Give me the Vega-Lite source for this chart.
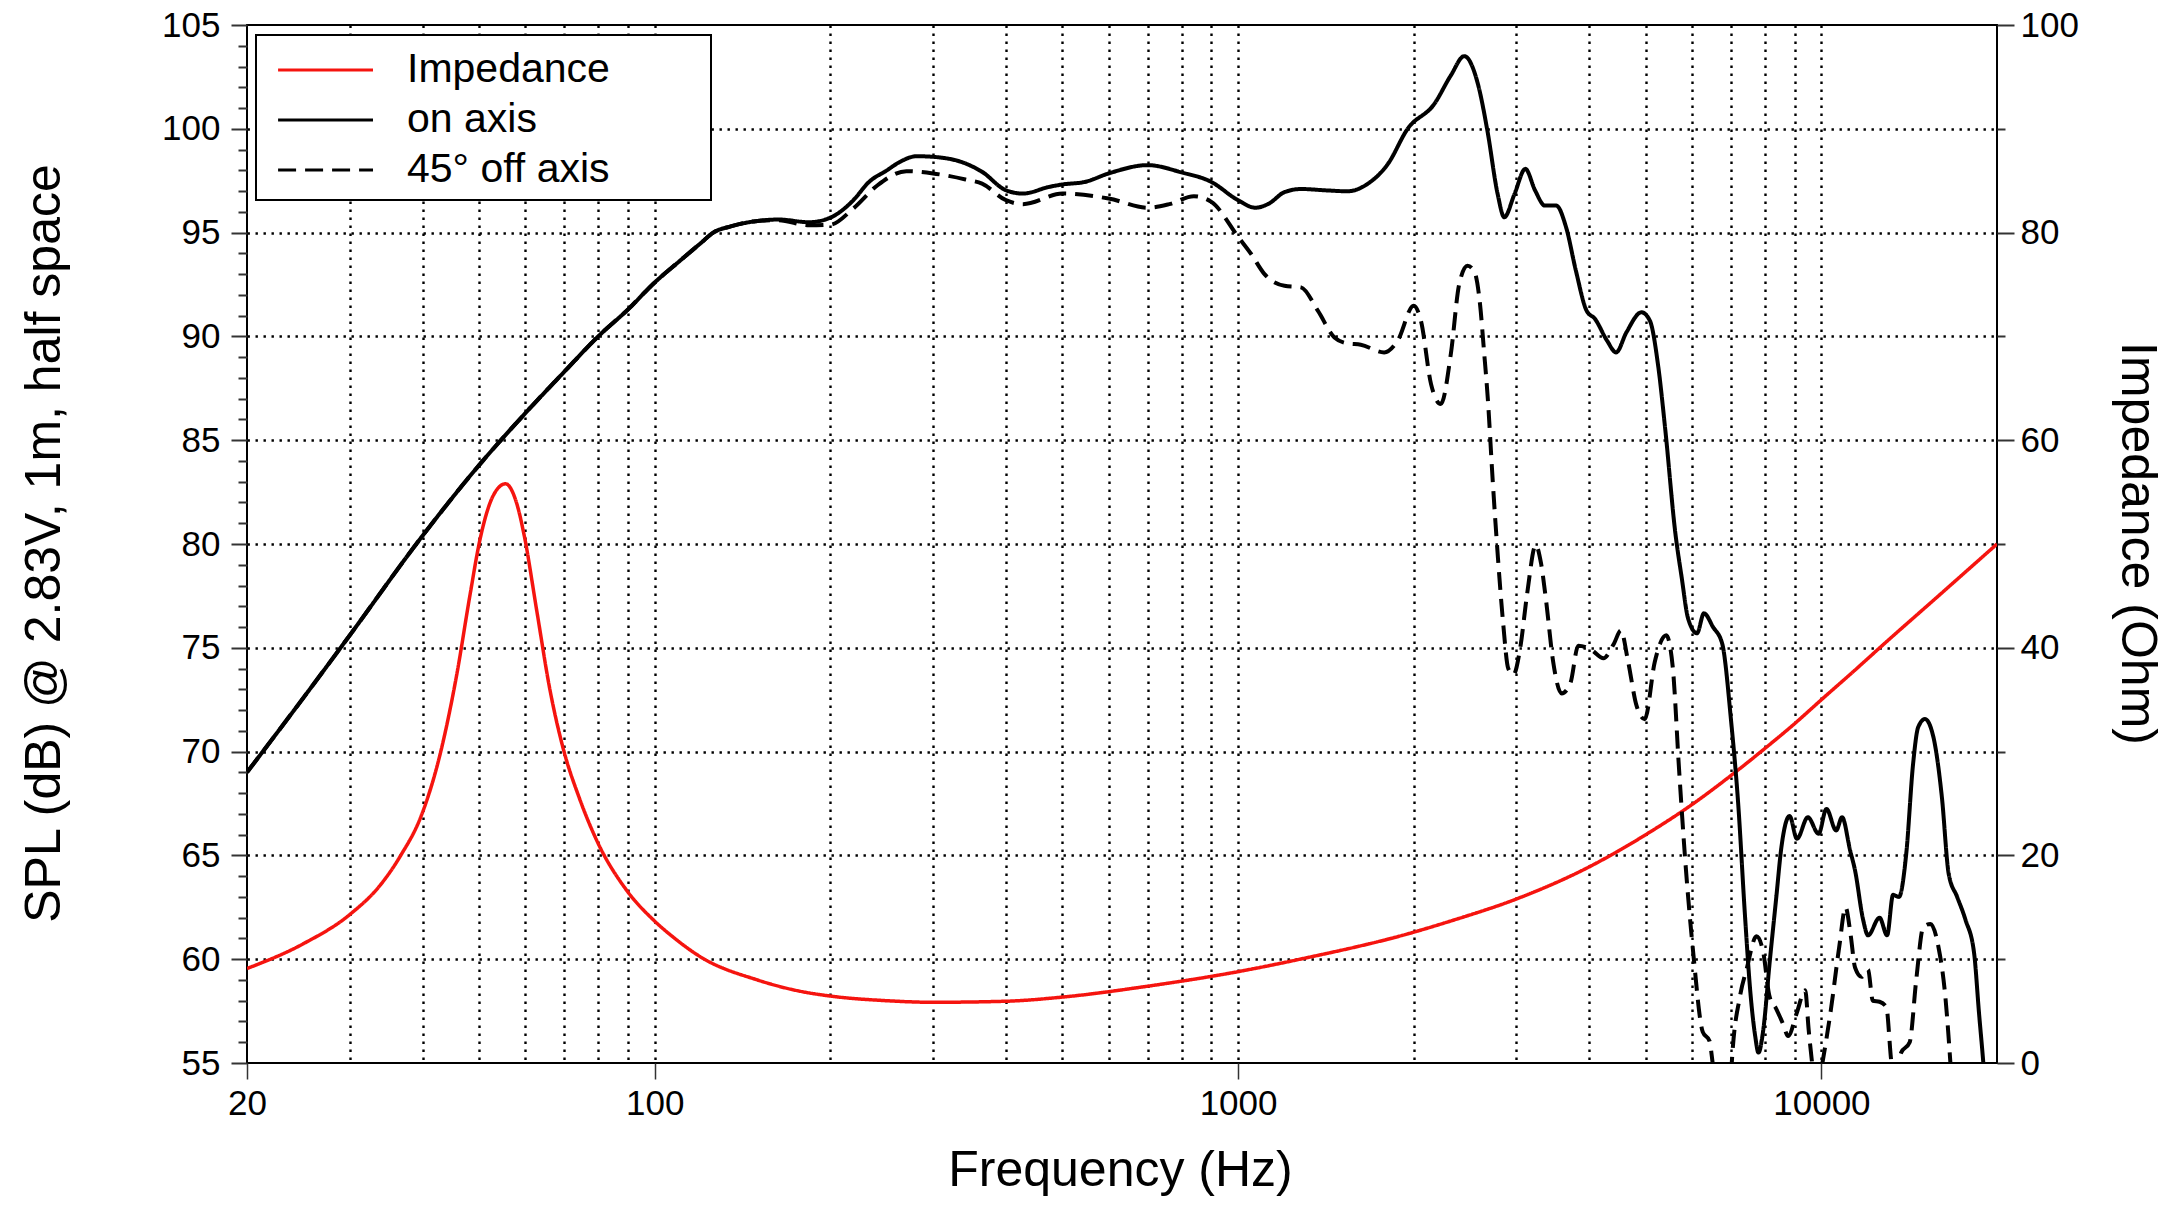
{
  "$schema": "https://vega.github.io/schema/vega-lite/v6.json",
  "width": 1750,
  "height": 1038,
  "autosize": {"type": "none"},
  "padding": {"left": 247, "top": 25, "right": 183, "bottom": 145},
  "background": "white",
  "config": {
    "font": "Liberation Sans",
    "view": {"stroke": "#000", "strokeWidth": 2},
    "axis": {
      "labelFont": "Liberation Sans", "titleFont": "Liberation Sans",
      "labelColor": "#000", "titleColor": "#000", "titleFontWeight": "normal",
      "domain": false, "tickColor": "#333", "tickWidth": 2,
      "labelFontSize": 35, "titleFontSize": 50,
      "gridColor": "#000", "gridDash": [2.4, 5.6], "gridWidth": 2.4,
      "labelOverlap": false, "labelBound": false, "labelFlush": false
    },
    "legend": {"strokeWidth": 2}
  },
  "datasets": {
    "spl": [
      {"f": 20, "s": "on axis", "db": 69.0}, {"f": 25, "s": "on axis", "db": 72.6}, {"f": 30, "s": "on axis", "db": 75.6},
      {"f": 40, "s": "on axis", "db": 80.4}, {"f": 50, "s": "on axis", "db": 83.8}, {"f": 60, "s": "on axis", "db": 86.3},
      {"f": 70, "s": "on axis", "db": 88.3}, {"f": 80, "s": "on axis", "db": 90.0}, {"f": 90, "s": "on axis", "db": 91.3},
      {"f": 100, "s": "on axis", "db": 92.6}, {"f": 110, "s": "on axis", "db": 93.6}, {"f": 120, "s": "on axis", "db": 94.5},
      {"f": 126, "s": "on axis", "db": 95.0}, {"f": 135, "s": "on axis", "db": 95.3}, {"f": 149, "s": "on axis", "db": 95.55},
      {"f": 163, "s": "on axis", "db": 95.63}, {"f": 184, "s": "on axis", "db": 95.5}, {"f": 200, "s": "on axis", "db": 95.72},
      {"f": 219, "s": "on axis", "db": 96.56}, {"f": 233, "s": "on axis", "db": 97.44}, {"f": 250, "s": "on axis", "db": 98.0},
      {"f": 263, "s": "on axis", "db": 98.4}, {"f": 281, "s": "on axis", "db": 98.68}, {"f": 300, "s": "on axis", "db": 98.65},
      {"f": 341, "s": "on axis", "db": 98.33}, {"f": 364, "s": "on axis", "db": 97.93}, {"f": 400, "s": "on axis", "db": 97.04},
      {"f": 428, "s": "on axis", "db": 96.88}, {"f": 474, "s": "on axis", "db": 97.2}, {"f": 500, "s": "on axis", "db": 97.32},
      {"f": 546, "s": "on axis", "db": 97.44}, {"f": 600, "s": "on axis", "db": 97.85}, {"f": 700, "s": "on axis", "db": 98.25},
      {"f": 800, "s": "on axis", "db": 97.9}, {"f": 900, "s": "on axis", "db": 97.44}, {"f": 1000, "s": "on axis", "db": 96.56},
      {"f": 1070, "s": "on axis", "db": 96.2}, {"f": 1130, "s": "on axis", "db": 96.4}, {"f": 1201, "s": "on axis", "db": 96.95},
      {"f": 1282, "s": "on axis", "db": 97.1}, {"f": 1424, "s": "on axis", "db": 97.03}, {"f": 1541, "s": "on axis", "db": 96.99},
      {"f": 1668, "s": "on axis", "db": 97.35}, {"f": 1806, "s": "on axis", "db": 98.3}, {"f": 1953, "s": "on axis", "db": 100.0},
      {"f": 2170, "s": "on axis", "db": 101.2}, {"f": 2316, "s": "on axis", "db": 102.57}, {"f": 2442, "s": "on axis", "db": 103.5},
      {"f": 2575, "s": "on axis", "db": 102.2}, {"f": 2676, "s": "on axis", "db": 99.9}, {"f": 2786, "s": "on axis", "db": 96.86},
      {"f": 2860, "s": "on axis", "db": 95.74}, {"f": 2978, "s": "on axis", "db": 96.86}, {"f": 3108, "s": "on axis", "db": 98.07},
      {"f": 3230, "s": "on axis", "db": 97.03}, {"f": 3358, "s": "on axis", "db": 96.3}, {"f": 3511, "s": "on axis", "db": 96.3},
      {"f": 3650, "s": "on axis", "db": 95.26}, {"f": 3794, "s": "on axis", "db": 93.17}, {"f": 3958, "s": "on axis", "db": 91.24},
      {"f": 4092, "s": "on axis", "db": 90.84}, {"f": 4292, "s": "on axis", "db": 89.79}, {"f": 4447, "s": "on axis", "db": 89.23},
      {"f": 4633, "s": "on axis", "db": 90.2}, {"f": 4915, "s": "on axis", "db": 91.16}, {"f": 5081, "s": "on axis", "db": 90.76},
      {"f": 5249, "s": "on axis", "db": 88.6}, {"f": 5400, "s": "on axis", "db": 85.5}, {"f": 5620, "s": "on axis", "db": 80.5},
      {"f": 5760, "s": "on axis", "db": 78.4}, {"f": 5910, "s": "on axis", "db": 76.4}, {"f": 6120, "s": "on axis", "db": 75.7},
      {"f": 6290, "s": "on axis", "db": 76.66}, {"f": 6520, "s": "on axis", "db": 76.0}, {"f": 6760, "s": "on axis", "db": 75.2},
      {"f": 7000, "s": "on axis", "db": 71.5}, {"f": 7200, "s": "on axis", "db": 67.5}, {"f": 7400, "s": "on axis", "db": 62.0},
      {"f": 7550, "s": "on axis", "db": 58.5}, {"f": 7700, "s": "on axis", "db": 56.3}, {"f": 7800, "s": "on axis", "db": 55.5},
      {"f": 7950, "s": "on axis", "db": 56.6}, {"f": 8150, "s": "on axis", "db": 59.8}, {"f": 8370, "s": "on axis", "db": 63.0},
      {"f": 8540, "s": "on axis", "db": 65.4}, {"f": 8820, "s": "on axis", "db": 66.9}, {"f": 9080, "s": "on axis", "db": 65.8},
      {"f": 9480, "s": "on axis", "db": 66.84}, {"f": 9890, "s": "on axis", "db": 66.04}, {"f": 10200, "s": "on axis", "db": 67.24},
      {"f": 10600, "s": "on axis", "db": 66.2}, {"f": 10850, "s": "on axis", "db": 66.84}, {"f": 11200, "s": "on axis", "db": 65.24},
      {"f": 11420, "s": "on axis", "db": 64.28}, {"f": 11790, "s": "on axis", "db": 61.9}, {"f": 12020, "s": "on axis", "db": 61.15},
      {"f": 12580, "s": "on axis", "db": 62.0}, {"f": 12960, "s": "on axis", "db": 61.15}, {"f": 13270, "s": "on axis", "db": 63.1},
      {"f": 13580, "s": "on axis", "db": 63.0}, {"f": 13980, "s": "on axis", "db": 65.1}, {"f": 14360, "s": "on axis", "db": 69.4},
      {"f": 14650, "s": "on axis", "db": 71.17}, {"f": 15050, "s": "on axis", "db": 71.57}, {"f": 15560, "s": "on axis", "db": 70.7},
      {"f": 16090, "s": "on axis", "db": 67.8}, {"f": 16530, "s": "on axis", "db": 64.1}, {"f": 17090, "s": "on axis", "db": 63.0},
      {"f": 17660, "s": "on axis", "db": 61.9}, {"f": 18270, "s": "on axis", "db": 60.3}, {"f": 18630, "s": "on axis", "db": 57.4},
      {"f": 18950, "s": "on axis", "db": 55.0}, {"f": 19300, "s": "on axis", "db": 52.0},

      {"f": 20, "s": "45° off axis", "db": 69.0}, {"f": 25, "s": "45° off axis", "db": 72.6}, {"f": 30, "s": "45° off axis", "db": 75.6},
      {"f": 40, "s": "45° off axis", "db": 80.4}, {"f": 50, "s": "45° off axis", "db": 83.8}, {"f": 60, "s": "45° off axis", "db": 86.3},
      {"f": 70, "s": "45° off axis", "db": 88.3}, {"f": 80, "s": "45° off axis", "db": 90.0}, {"f": 90, "s": "45° off axis", "db": 91.3},
      {"f": 100, "s": "45° off axis", "db": 92.6}, {"f": 110, "s": "45° off axis", "db": 93.6}, {"f": 120, "s": "45° off axis", "db": 94.5},
      {"f": 126, "s": "45° off axis", "db": 95.0}, {"f": 135, "s": "45° off axis", "db": 95.3}, {"f": 149, "s": "45° off axis", "db": 95.55},
      {"f": 163, "s": "45° off axis", "db": 95.6}, {"f": 184, "s": "45° off axis", "db": 95.35}, {"f": 200, "s": "45° off axis", "db": 95.38},
      {"f": 219, "s": "45° off axis", "db": 96.16}, {"f": 241, "s": "45° off axis", "db": 97.28}, {"f": 270, "s": "45° off axis", "db": 97.96},
      {"f": 300, "s": "45° off axis", "db": 97.85}, {"f": 341, "s": "45° off axis", "db": 97.56}, {"f": 364, "s": "45° off axis", "db": 97.36},
      {"f": 400, "s": "45° off axis", "db": 96.56}, {"f": 428, "s": "45° off axis", "db": 96.37}, {"f": 500, "s": "45° off axis", "db": 96.88},
      {"f": 600, "s": "45° off axis", "db": 96.64}, {"f": 700, "s": "45° off axis", "db": 96.2}, {"f": 762, "s": "45° off axis", "db": 96.37},
      {"f": 840, "s": "45° off axis", "db": 96.75}, {"f": 900, "s": "45° off axis", "db": 96.48}, {"f": 1000, "s": "45° off axis", "db": 94.8},
      {"f": 1053, "s": "45° off axis", "db": 93.97}, {"f": 1110, "s": "45° off axis", "db": 93.0}, {"f": 1201, "s": "45° off axis", "db": 92.44},
      {"f": 1282, "s": "45° off axis", "db": 92.36}, {"f": 1370, "s": "45° off axis", "db": 91.24}, {"f": 1463, "s": "45° off axis", "db": 89.95},
      {"f": 1541, "s": "45° off axis", "db": 89.66}, {"f": 1623, "s": "45° off axis", "db": 89.6}, {"f": 1780, "s": "45° off axis", "db": 89.23},
      {"f": 1877, "s": "45° off axis", "db": 89.79}, {"f": 2000, "s": "45° off axis", "db": 91.48}, {"f": 2058, "s": "45° off axis", "db": 90.76},
      {"f": 2142, "s": "45° off axis", "db": 87.7}, {"f": 2226, "s": "45° off axis", "db": 86.74}, {"f": 2316, "s": "45° off axis", "db": 89.15},
      {"f": 2394, "s": "45° off axis", "db": 92.52}, {"f": 2474, "s": "45° off axis", "db": 93.4}, {"f": 2543, "s": "45° off axis", "db": 93.1},
      {"f": 2600, "s": "45° off axis", "db": 91.5}, {"f": 2640, "s": "45° off axis", "db": 89.3}, {"f": 2680, "s": "45° off axis", "db": 87.0},
      {"f": 2733, "s": "45° off axis", "db": 83.0}, {"f": 2790, "s": "45° off axis", "db": 79.3}, {"f": 2847, "s": "45° off axis", "db": 76.2},
      {"f": 2905, "s": "45° off axis", "db": 74.0}, {"f": 2965, "s": "45° off axis", "db": 73.7}, {"f": 3046, "s": "45° off axis", "db": 75.0},
      {"f": 3130, "s": "45° off axis", "db": 77.6}, {"f": 3238, "s": "45° off axis", "db": 79.95}, {"f": 3305, "s": "45° off axis", "db": 79.1},
      {"f": 3373, "s": "45° off axis", "db": 77.28}, {"f": 3466, "s": "45° off axis", "db": 74.39}, {"f": 3587, "s": "45° off axis", "db": 72.8},
      {"f": 3713, "s": "45° off axis", "db": 73.3}, {"f": 3830, "s": "45° off axis", "db": 75.1}, {"f": 4034, "s": "45° off axis", "db": 74.9},
      {"f": 4231, "s": "45° off axis", "db": 74.5}, {"f": 4409, "s": "45° off axis", "db": 75.2}, {"f": 4532, "s": "45° off axis", "db": 75.84},
      {"f": 4659, "s": "45° off axis", "db": 74.39}, {"f": 4822, "s": "45° off axis", "db": 72.2}, {"f": 4980, "s": "45° off axis", "db": 71.56},
      {"f": 5180, "s": "45° off axis", "db": 74.32}, {"f": 5420, "s": "45° off axis", "db": 75.6}, {"f": 5560, "s": "45° off axis", "db": 74.1},
      {"f": 5700, "s": "45° off axis", "db": 69.2}, {"f": 5850, "s": "45° off axis", "db": 64.55}, {"f": 6030, "s": "45° off axis", "db": 60.3},
      {"f": 6260, "s": "45° off axis", "db": 56.5}, {"f": 6430, "s": "45° off axis", "db": 56.06}, {"f": 6510, "s": "45° off axis", "db": 55.0},
      {"f": 6700, "s": "45° off axis", "db": 52.0}, {"f": 6950, "s": "45° off axis", "db": 52.0}, {"f": 7020, "s": "45° off axis", "db": 55.0},
      {"f": 7250, "s": "45° off axis", "db": 58.2}, {"f": 7440, "s": "45° off axis", "db": 59.5}, {"f": 7740, "s": "45° off axis", "db": 61.1},
      {"f": 7940, "s": "45° off axis", "db": 60.4}, {"f": 8150, "s": "45° off axis", "db": 58.2}, {"f": 8370, "s": "45° off axis", "db": 57.6},
      {"f": 8590, "s": "45° off axis", "db": 56.9}, {"f": 8770, "s": "45° off axis", "db": 56.3}, {"f": 9070, "s": "45° off axis", "db": 57.4},
      {"f": 9380, "s": "45° off axis", "db": 58.5}, {"f": 9510, "s": "45° off axis", "db": 56.6}, {"f": 9640, "s": "45° off axis", "db": 55.0},
      {"f": 9820, "s": "45° off axis", "db": 53.5}, {"f": 10040, "s": "45° off axis", "db": 55.0}, {"f": 10380, "s": "45° off axis", "db": 57.55},
      {"f": 10730, "s": "45° off axis", "db": 60.6}, {"f": 11000, "s": "45° off axis", "db": 62.5}, {"f": 11220, "s": "45° off axis", "db": 61.2},
      {"f": 11420, "s": "45° off axis", "db": 59.6}, {"f": 11720, "s": "45° off axis", "db": 59.15}, {"f": 12020, "s": "45° off axis", "db": 59.5},
      {"f": 12250, "s": "45° off axis", "db": 58.0}, {"f": 12580, "s": "45° off axis", "db": 57.95}, {"f": 12920, "s": "45° off axis", "db": 57.7},
      {"f": 13190, "s": "45° off axis", "db": 55.0}, {"f": 13350, "s": "45° off axis", "db": 54.5}, {"f": 13700, "s": "45° off axis", "db": 55.5},
      {"f": 14170, "s": "45° off axis", "db": 56.0}, {"f": 14540, "s": "45° off axis", "db": 59.0}, {"f": 14950, "s": "45° off axis", "db": 61.55},
      {"f": 15380, "s": "45° off axis", "db": 61.7}, {"f": 15870, "s": "45° off axis", "db": 60.6}, {"f": 16310, "s": "45° off axis", "db": 58.2},
      {"f": 16640, "s": "45° off axis", "db": 55.0}, {"f": 16900, "s": "45° off axis", "db": 52.0}
    ],
    "imp": [
      {"f": 20, "s": "Impedance", "ohm": 9.1}, {"f": 25, "s": "Impedance", "ohm": 11.5}, {"f": 30, "s": "Impedance", "ohm": 14.3},
      {"f": 33.8, "s": "Impedance", "ohm": 17.1}, {"f": 36.6, "s": "Impedance", "ohm": 19.9}, {"f": 39.9, "s": "Impedance", "ohm": 24.0},
      {"f": 42.8, "s": "Impedance", "ohm": 29.6}, {"f": 45.8, "s": "Impedance", "ohm": 37.5}, {"f": 48.2, "s": "Impedance", "ohm": 45.0},
      {"f": 50.2, "s": "Impedance", "ohm": 50.5}, {"f": 52.9, "s": "Impedance", "ohm": 54.7}, {"f": 55.5, "s": "Impedance", "ohm": 55.8},
      {"f": 58.0, "s": "Impedance", "ohm": 53.9}, {"f": 59.7, "s": "Impedance", "ohm": 50.9}, {"f": 62.8, "s": "Impedance", "ohm": 43.5},
      {"f": 66.1, "s": "Impedance", "ohm": 36.0}, {"f": 69.6, "s": "Impedance", "ohm": 30.4}, {"f": 74.4, "s": "Impedance", "ohm": 25.4},
      {"f": 79.6, "s": "Impedance", "ohm": 21.4}, {"f": 89.6, "s": "Impedance", "ohm": 16.6}, {"f": 99.4, "s": "Impedance", "ohm": 13.8},
      {"f": 107.7, "s": "Impedance", "ohm": 12.1}, {"f": 120, "s": "Impedance", "ohm": 10.2}, {"f": 150, "s": "Impedance", "ohm": 8.0},
      {"f": 178, "s": "Impedance", "ohm": 6.9}, {"f": 200, "s": "Impedance", "ohm": 6.45}, {"f": 250, "s": "Impedance", "ohm": 6.0},
      {"f": 300, "s": "Impedance", "ohm": 5.85}, {"f": 400, "s": "Impedance", "ohm": 5.95}, {"f": 500, "s": "Impedance", "ohm": 6.35},
      {"f": 700, "s": "Impedance", "ohm": 7.4}, {"f": 1000, "s": "Impedance", "ohm": 8.8}, {"f": 1277, "s": "Impedance", "ohm": 10.0},
      {"f": 2000, "s": "Impedance", "ohm": 12.6}, {"f": 2321, "s": "Impedance", "ohm": 13.7}, {"f": 3000, "s": "Impedance", "ohm": 15.8},
      {"f": 4000, "s": "Impedance", "ohm": 18.9}, {"f": 5000, "s": "Impedance", "ohm": 22.0}, {"f": 6000, "s": "Impedance", "ohm": 24.9},
      {"f": 7000, "s": "Impedance", "ohm": 27.7}, {"f": 8000, "s": "Impedance", "ohm": 30.3}, {"f": 9000, "s": "Impedance", "ohm": 32.7},
      {"f": 10000, "s": "Impedance", "ohm": 35.0}, {"f": 11390, "s": "Impedance", "ohm": 37.8}, {"f": 12820, "s": "Impedance", "ohm": 40.4},
      {"f": 15800, "s": "Impedance", "ohm": 44.9}, {"f": 20000, "s": "Impedance", "ohm": 50.0}
    ]
  },
  "layer": [
    {
      "data": {"name": "imp"},
      "mark": {"type": "line", "strokeWidth": 3.5, "interpolate": "monotone", "clip": true},
      "encoding": {
        "x": {"field": "f", "type": "quantitative",
          "scale": {"type": "log", "domain": [20, 20000], "nice": false},
          "axis": {"title": "Frequency (Hz)", "titleX": 873, "titleY": 122, "titleBaseline": "alphabetic",
            "values": [20,30,40,50,60,70,80,90,100,200,300,400,500,600,700,800,900,1000,2000,3000,4000,5000,6000,7000,8000,9000,10000,20000],
            "labelExpr": "(datum.value==20||datum.value==100||datum.value==1000||datum.value==10000) ? format(datum.value,'d') : ''",
            "tickSize": {"condition": {"test": "datum.value==20||datum.value==100||datum.value==1000||datum.value==10000", "value": 16}, "value": 0},
            "tickOpacity": {"condition": {"test": "datum.value==20||datum.value==100||datum.value==1000||datum.value==10000", "value": 1}, "value": 0},
            "tickWidth": 1.5,
            "labelPadding": 7,
            "grid": true,
            "gridOpacity": {"condition": {"test": "datum.value > 20 && datum.value < 11000", "value": 1}, "value": 0}}},
        "y": {"field": "ohm", "type": "quantitative",
          "scale": {"domain": [0, 100], "nice": false, "zero": false},
          "axis": {"orient": "right", "title": "Impedance (Ohm)", "titleAngle": 90, "titleX": 124, "titleY": 518,
            "titleBaseline": "alphabetic", "titleAlign": "center",
            "values": [0,10,20,30,40,50,60,70,80,90,100],
            "labelExpr": "datum.value % 20 === 0 ? datum.label : ''",
            "tickSize": {"condition": {"test": "datum.value % 20 === 0", "value": 17}, "value": 8},
            "labelPadding": 6, "grid": false}},
        "color": {"field": "s", "type": "nominal",
          "scale": {"domain": ["Impedance", "on axis", "45° off axis"], "range": ["#f5140f", "#000000", "#000000"]},
          "legend": {"orient": "none", "legendX": 9, "legendY": 10, "title": null,
            "symbolType": "M-0.55,0H3.49", "symbolSize": 2209, "symbolStrokeWidth": 3,
            "labelFontSize": 41, "labelFont": "Liberation Sans", "labelColor": "#000", "labelOffset": 91, "padding": 10,
            "strokeColor": "#000", "fillColor": "#fff", "rowPadding": 5, "labelLimit": 0,
            "labelExpr": "datum.label + '\u00a0\u00a0\u00a0\u00a0\u00a0\u00a0\u00a0\u00a0\u200b'"}},
        "strokeDash": {"field": "s", "type": "nominal",
          "scale": {"domain": ["Impedance", "on axis", "45° off axis"], "range": [[1, 0], [1, 0], [18, 9]]},
          "legend": {"orient": "none", "legendX": 9, "legendY": 10, "title": null,
            "symbolType": "M-0.55,0H3.49", "symbolSize": 2209, "symbolStrokeWidth": 3,
            "labelFontSize": 41, "labelFont": "Liberation Sans", "labelColor": "#000", "labelOffset": 91, "padding": 10,
            "strokeColor": "#000", "fillColor": "#fff", "rowPadding": 5, "labelLimit": 0,
            "labelExpr": "datum.label + '\u00a0\u00a0\u00a0\u00a0\u00a0\u00a0\u00a0\u00a0\u200b'"}}
      }
    },
    {
      "data": {"name": "spl"},
      "mark": {"type": "line", "strokeWidth": 4, "interpolate": "monotone", "clip": true},
      "encoding": {
        "x": {"field": "f", "type": "quantitative",
          "scale": {"type": "log", "domain": [20, 20000], "nice": false}},
        "y": {"field": "db", "type": "quantitative",
          "scale": {"domain": [55, 105], "nice": false, "zero": false},
          "axis": {"orient": "left", "title": "SPL (dB) @ 2.83V, 1m, half space", "titleAngle": -90,
            "titleX": -188, "titleY": 518, "titleBaseline": "alphabetic", "titleAlign": "center",
            "values": [55,56,57,58,59,60,61,62,63,64,65,66,67,68,69,70,71,72,73,74,75,76,77,78,79,80,81,82,83,84,85,86,87,88,89,90,91,92,93,94,95,96,97,98,99,100,101,102,103,104,105],
            "labelExpr": "datum.value % 5 === 0 ? datum.label : ''",
            "tickSize": {"condition": {"test": "datum.value % 5 === 0", "value": 16}, "value": 9},
            "labelPadding": 11,
            "grid": true,
            "gridOpacity": {"condition": {"test": "datum.value % 5 === 0 && datum.value > 55 && datum.value < 105", "value": 1}, "value": 0}}},
        "color": {"field": "s", "type": "nominal",
          "scale": {"domain": ["Impedance", "on axis", "45° off axis"], "range": ["#f5140f", "#000000", "#000000"]},
          "legend": {"orient": "none", "legendX": 9, "legendY": 10, "title": null,
            "symbolType": "M-0.55,0H3.49", "symbolSize": 2209, "symbolStrokeWidth": 3,
            "labelFontSize": 41, "labelFont": "Liberation Sans", "labelColor": "#000", "labelOffset": 91, "padding": 10,
            "strokeColor": "#000", "fillColor": "#fff", "rowPadding": 5, "labelLimit": 0,
            "labelExpr": "datum.label + '\u00a0\u00a0\u00a0\u00a0\u00a0\u00a0\u00a0\u00a0\u200b'"}},
        "strokeDash": {"field": "s", "type": "nominal",
          "scale": {"domain": ["Impedance", "on axis", "45° off axis"], "range": [[1, 0], [1, 0], [18, 9]]},
          "legend": {"orient": "none", "legendX": 9, "legendY": 10, "title": null,
            "symbolType": "M-0.55,0H3.49", "symbolSize": 2209, "symbolStrokeWidth": 3,
            "labelFontSize": 41, "labelFont": "Liberation Sans", "labelColor": "#000", "labelOffset": 91, "padding": 10,
            "strokeColor": "#000", "fillColor": "#fff", "rowPadding": 5, "labelLimit": 0,
            "labelExpr": "datum.label + '\u00a0\u00a0\u00a0\u00a0\u00a0\u00a0\u00a0\u00a0\u200b'"}}
      }
    }
  ],
  "resolve": {"scale": {"y": "independent"}}
}
